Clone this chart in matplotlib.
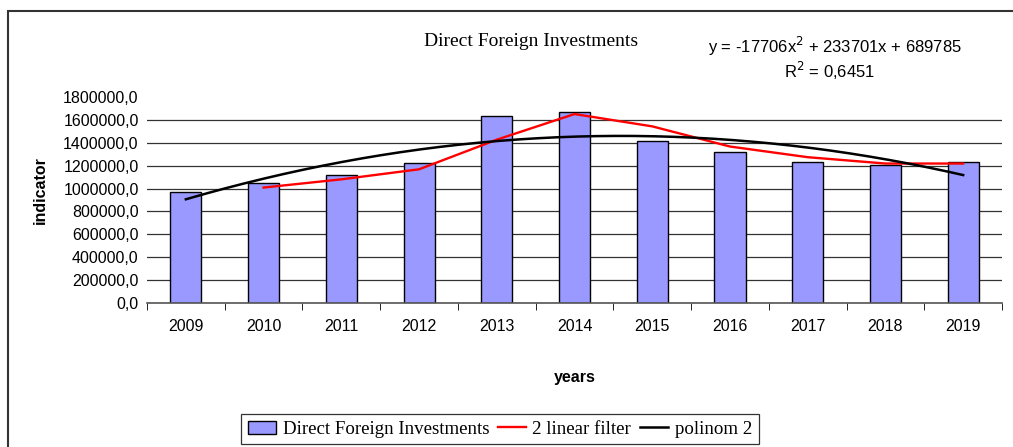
import numpy as np
import pandas as pd
import matplotlib
matplotlib.use("Agg")
import matplotlib.pyplot as plt
from matplotlib.patches import Patch, Rectangle
from matplotlib.lines import Line2D

# data
years = ["2009", "2010", "2011", "2012", "2013", "2014",
         "2015", "2016", "2017", "2018", "2019"]
investments = [972000, 1045000, 1116000, 1221000, 1635000, 1670000,
               1419000, 1317000, 1232000, 1206000, 1232000]
# polynomial trend shown on the chart (x = 1..11)
poly_coef = [-17706, 233701, 689785]
r_squared = "0,6451"
y_ticks = [0, 200000, 400000, 600000, 800000, 1000000,
           1200000, 1400000, 1600000, 1800000]

W, H = 1013, 447
fig = plt.figure(figsize=(W / 100, H / 100), dpi=100)
ax = fig.add_axes([147 / W, 1 - 302.7 / H, (1002 - 147) / W, (302.7 - 97.2) / H])

x = np.arange(len(years))
ax.bar(x, investments, width=0.4, color="#9999FF", edgecolor="black",
       linewidth=1, zorder=2)

# 2-period moving average
ma = pd.Series(investments).rolling(2).mean()
ax.plot(x, ma, color="red", linewidth=1.7, zorder=3)

# polynomial trend line
xs = np.linspace(1, len(years), 200)
ax.plot(xs - 1, np.polyval(poly_coef, xs), color="black", linewidth=1.8, zorder=4)

ax.set_xlim(-0.5, len(years) - 0.5)
ax.set_ylim(0, 1800000)
ax.set_yticks(y_ticks)
ax.set_yticklabels([f"{v:.1f}".replace(".", ",") for v in y_ticks],
                   fontsize=11.5, family="Liberation Sans")
ax.set_xticks(x)
ax.set_xticklabels(years, fontsize=11.5, family="Liberation Sans")
ax.tick_params(axis="x", length=0, pad=12)
ax.tick_params(axis="y", length=0, pad=6)
# category separator ticks on x axis
ax.set_xticks(np.arange(-0.5, len(years)), minor=True)
ax.tick_params(axis="x", which="minor", length=5, color="black", direction="out")

ax.grid(axis="y", color="#333333", linewidth=0.9, zorder=0)
ax.set_axisbelow(True)
ax.yaxis.get_gridlines()[-1].set_visible(False)
for s in ["top", "right", "left"]:
    ax.spines[s].set_visible(False)
ax.spines["bottom"].set_color("#555555")
ax.spines["bottom"].set_linewidth(1.2)

ax.set_xlabel("years", fontsize=11.5, fontweight="bold", family="Liberation Sans",
              labelpad=26)
fig.text(40 / W, 1 - 190 / H, "indicator", rotation=90, ha="center", va="center",
         fontsize=11.5, fontweight="bold", family="Liberation Sans")

fig.text(531 / W, 1 - 42 / H, "Direct Foreign Investments", ha="center", va="center",
         fontsize=14, family="Liberation Serif")
eq = "y = -17706x$^2$ + 233701x + 689785"
fig.text(835 / W, 1 - 46 / H, eq, ha="center", va="center",
         fontsize=12, family="Liberation Sans")
fig.text(830 / W, 1 - 71 / H, f"R$^2$ = {r_squared}", ha="center", va="center",
         fontsize=12, family="Liberation Sans")

handles = [Patch(facecolor="#9999FF", edgecolor="black", linewidth=1),
           Line2D([], [], color="red", linewidth=1.7),
           Line2D([], [], color="black", linewidth=1.8)]
labels = ["Direct Foreign Investments", "2 linear filter", "polinom 2"]
leg = fig.legend(handles, labels, loc="upper left",
                 bbox_to_anchor=(241 / W, 1 - 414 / H), ncol=3,
                 prop={"family": "Liberation Serif", "size": 13.6},
                 frameon=True, fancybox=False, edgecolor="black",
                 handlelength=1.5, handletextpad=0.35, columnspacing=0.45,
                 borderpad=0.35, borderaxespad=0)
leg.get_frame().set_linewidth(0.9)

# outer chart border (top and left)
fig.add_artist(Rectangle((8 / W, -0.1), 1.2, 1 - 11 / H + 0.1,
                         transform=fig.transFigure, fill=False,
                         edgecolor="#333333", linewidth=1.5))

fig.savefig("out.png", dpi=100)
